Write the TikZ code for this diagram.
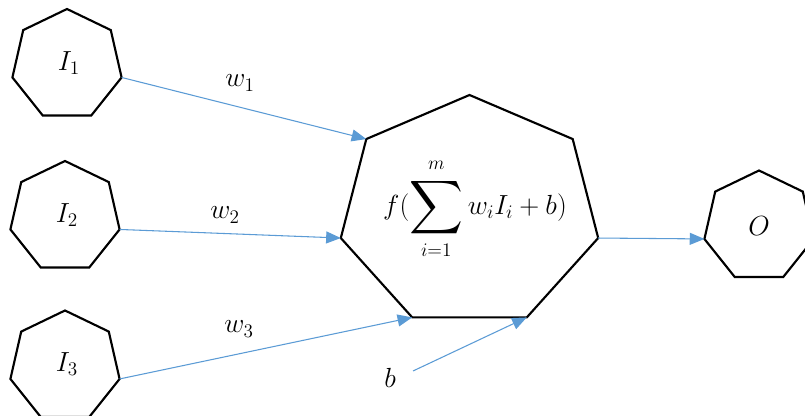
\documentclass[tikz,border=0pt]{standalone}
\usepackage{amsmath}
\usepackage{graphicx}
\usetikzlibrary{arrows.meta,calc}
\definecolor{wblue}{RGB}{91,155,213}
\newcommand\heptagonshape[5]{% name, cx, cy, rx, ry
  \foreach \k in {1,...,7}{%
    \coordinate (#1-\k) at ($(#2,#3)+({90+(\k-1)*360/7}:#4 and #5)$);}
  \draw[hept] (#1-1)--(#1-2)--(#1-3)--(#1-4)--(#1-5)--(#1-6)--(#1-7)--cycle;}
\newcommand\bigsumop{\mathop{\vcenter{\hbox{\raisebox{0pt}[\dimexpr\height+2pt\relax][\dimexpr\depth+1pt\relax]{\scalebox{1.35}{$\displaystyle\sum$}}}}}\limits}
\begin{document}
\begin{tikzpicture}[x=0.75pt,y=0.75pt,
  hept/.style={line width=1.6pt, line join=miter},
  conn/.style={draw=wblue, line width=0.8pt, -{Triangle[length=11pt,width=9pt,fill=wblue]}},
  lbl/.style={font=\fontsize{21}{25}\selectfont, inner sep=0pt}]
\useasboundingbox (0,0) rectangle (805,416);
\heptagonshape{H1}{67}{351}{42pt}{42pt}
\heptagonshape{H2}{65}{199}{42pt}{42pt}
\heptagonshape{H3}{65}{49.5}{42pt}{42pt}
\heptagonshape{HO}{759}{189.5}{42pt}{42pt}
\heptagonshape{B}{469.5}{204}{99pt}{87.75pt}
\node[lbl] (I1) at (69,353) {$I_1$};
\node[lbl] (I2) at (67,201) {$I_2$};
\node[lbl] (I3) at (67,52) {$I_3$};
\node[lbl] (O) at (759,189.5) {$O$};
\node[lbl] (F) at (475,207) {$f(\bigsumop_{i=1}^{m} w_i I_i + b)$};
\node[lbl] (w1) at (240,333) {$w_1$};
\node[lbl] (w2) at (225,201) {$w_2$};
\node[lbl] (w3) at (239,87) {$w_3$};
\node[lbl] (b) at (390,38) {$b$};
\coordinate (bs) at (413,45);
\draw[conn] (H1-6) -- (B-2);
\draw[conn] (H2-6) -- (B-3);
\draw[conn] (H3-6) -- (B-4);
\draw[conn] (bs) -- (B-5);
\draw[conn] (B-6) -- (HO-3);
\end{tikzpicture}
\end{document}
